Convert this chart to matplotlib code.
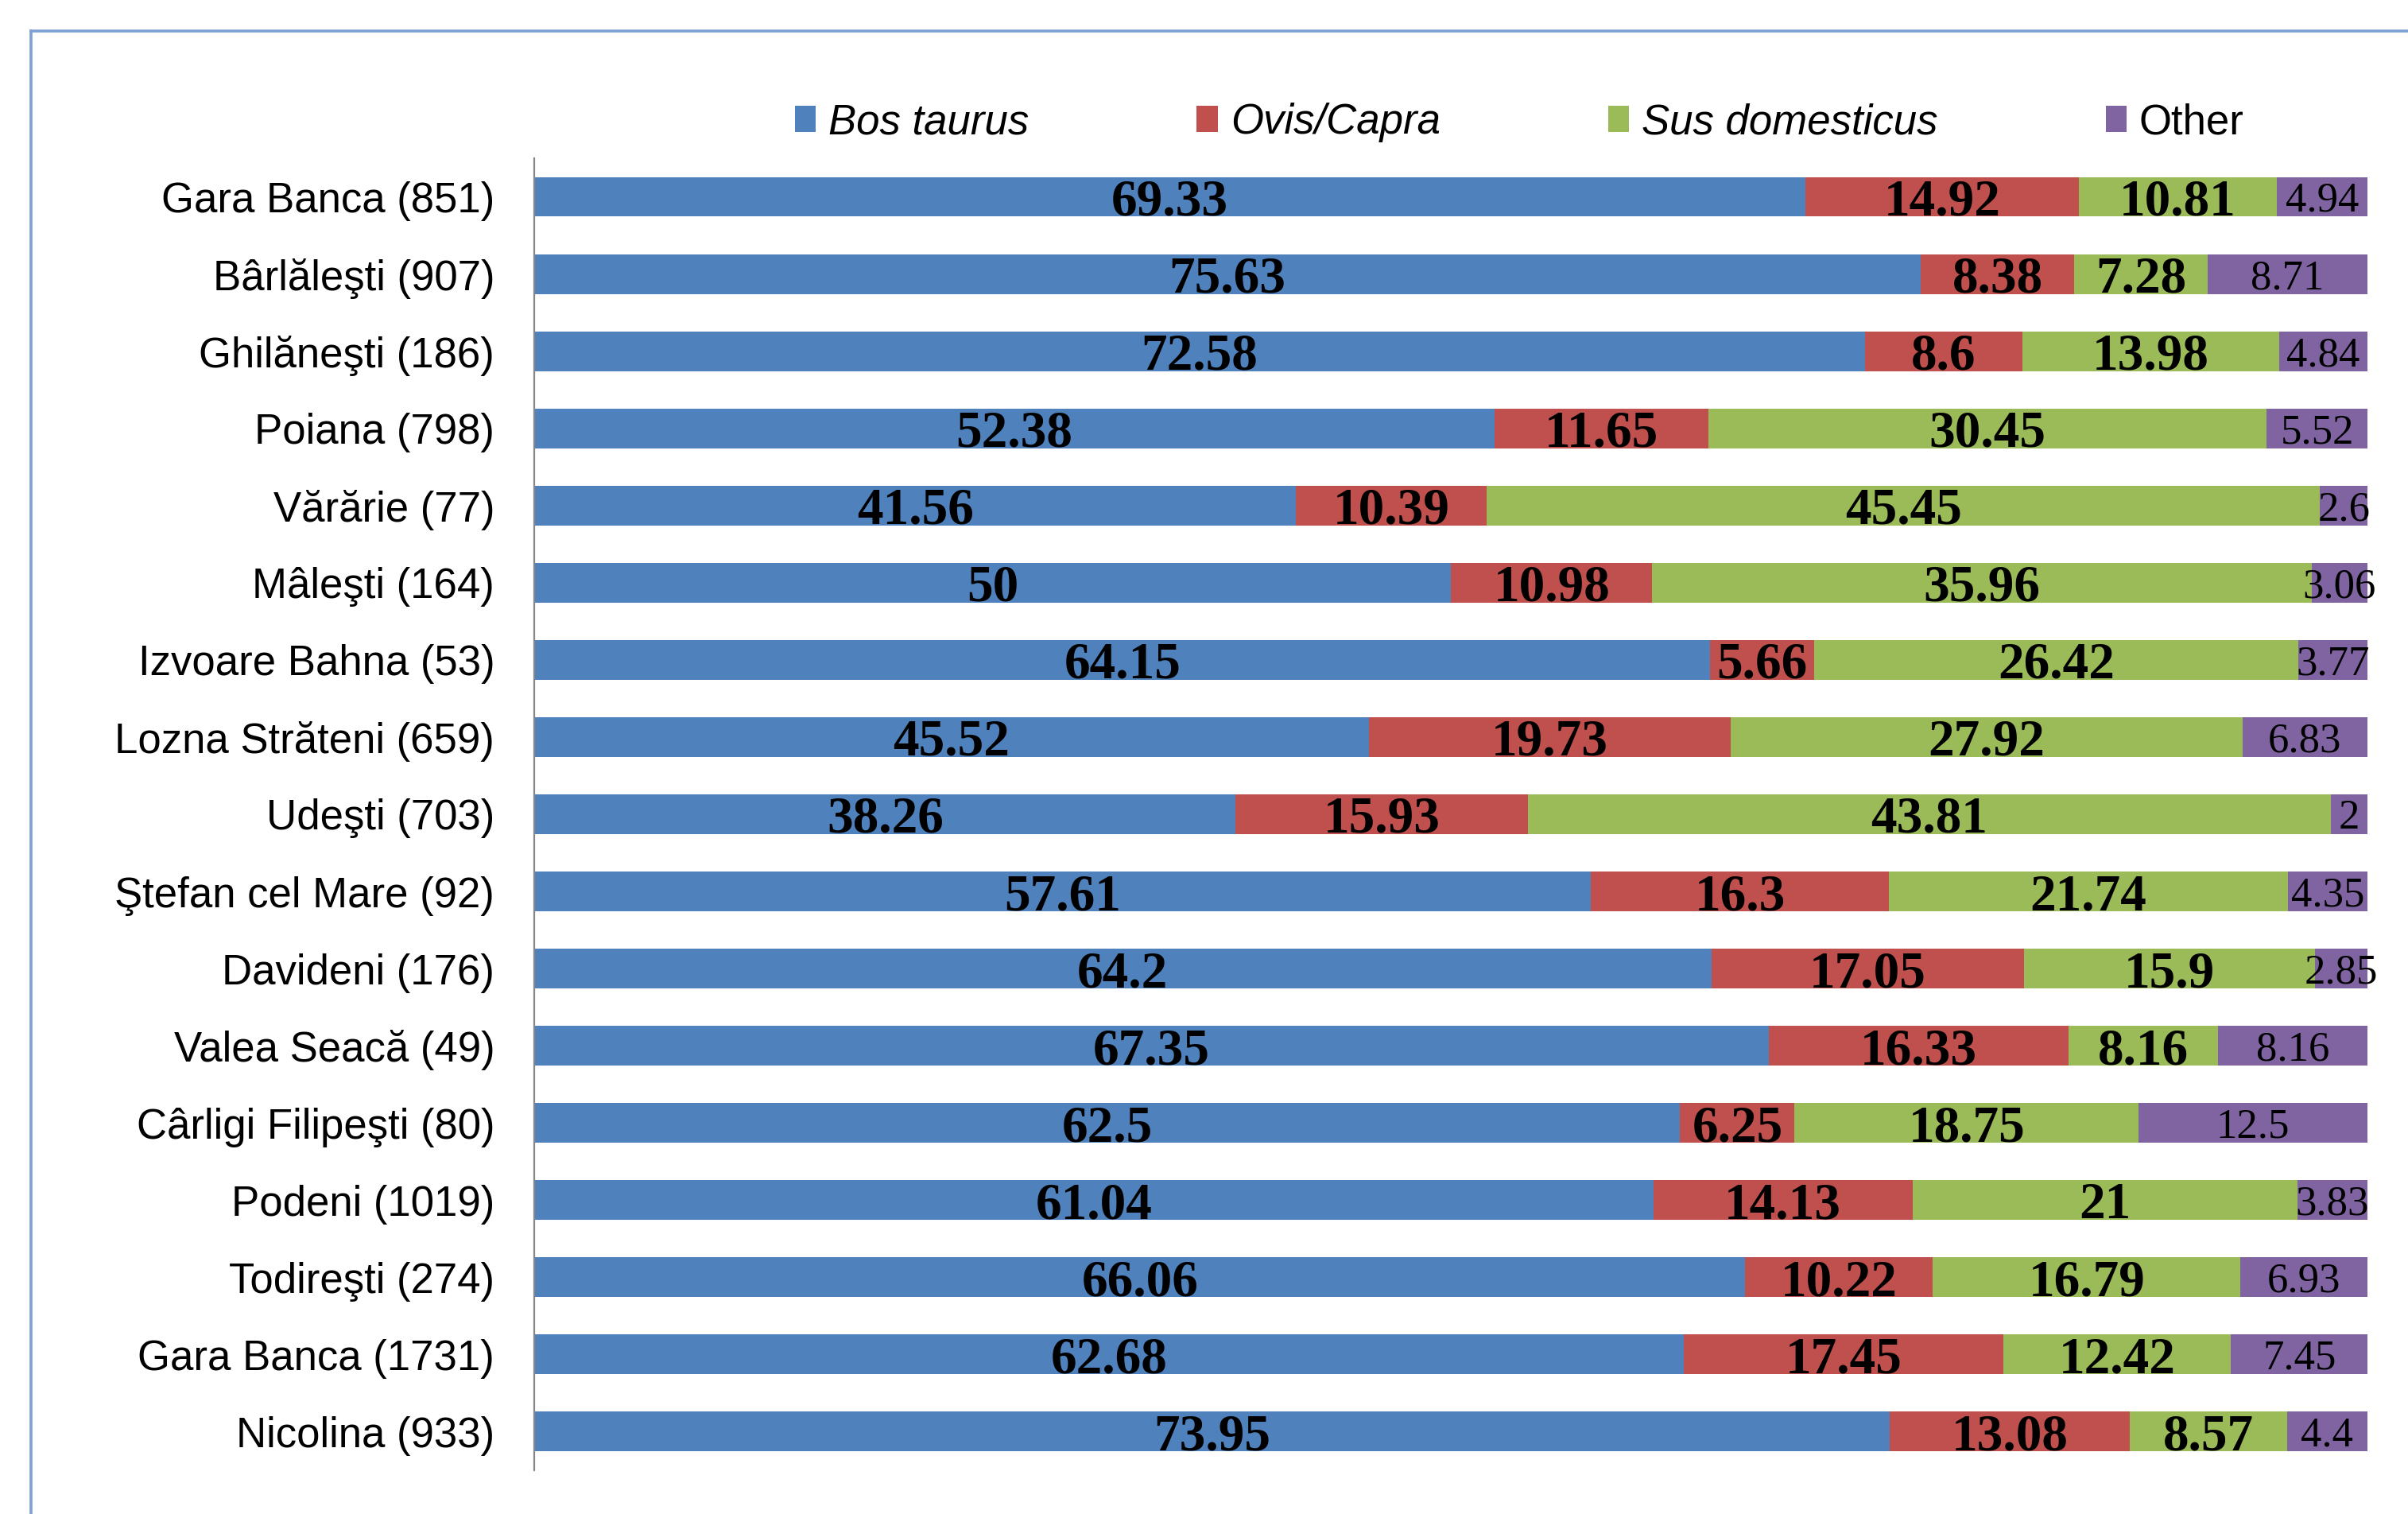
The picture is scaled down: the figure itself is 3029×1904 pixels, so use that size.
import numpy as np
import matplotlib
matplotlib.use('Agg')
import matplotlib.pyplot as plt
from matplotlib.lines import Line2D

# ===================== 数据 =====================
sites = ['Gara Banca (851)', 'Bârlăleşti (907)', 'Ghilăneşti (186)', 'Poiana (798)',
         'Vărărie (77)', 'Mâleşti (164)', 'Izvoare Bahna (53)', 'Lozna Străteni (659)',
         'Udeşti (703)', 'Ştefan cel Mare (92)', 'Davideni (176)', 'Valea Seacă (49)',
         'Cârligi Filipeşti (80)', 'Podeni (1019)', 'Todireşti (274)',
         'Gara Banca (1731)', 'Nicolina (933)']

bos_taurus = [69.33, 75.63, 72.58, 52.38, 41.56, 50, 64.15, 45.52, 38.26, 57.61,
              64.2, 67.35, 62.5, 61.04, 66.06, 62.68, 73.95]
ovis_capra = [14.92, 8.38, 8.6, 11.65, 10.39, 10.98, 5.66, 19.73, 15.93, 16.3,
              17.05, 16.33, 6.25, 14.13, 10.22, 17.45, 13.08]
sus_dom = [10.81, 7.28, 13.98, 30.45, 45.45, 35.96, 26.42, 27.92, 43.81, 21.74,
           15.9, 8.16, 18.75, 21, 16.79, 12.42, 8.57]
other = [4.94, 8.71, 4.84, 5.52, 2.6, 3.06, 3.77, 6.83, 2, 4.35,
         2.85, 8.16, 12.5, 3.83, 6.93, 7.45, 4.4]

series_names = ['Bos taurus', 'Ovis/Capra', 'Sus domesticus', 'Other']
colors = ['#4F81BD', '#C0504D', '#9BBB59', '#8064A2']

# ===================== 绘图 =====================
fig = plt.figure(figsize=(15.145, 9.52), dpi=200)
ax = fig.add_axes([0.2219, 0.0289, 0.7613, 0.8666])

y = np.arange(len(sites))
left = np.zeros(len(sites))
all_series = [bos_taurus, ovis_capra, sus_dom, other]

for i, (vals, name, col) in enumerate(zip(all_series, series_names, colors)):
    vals = np.array(vals, dtype=float)
    ax.barh(y, vals, left=left, height=0.515, color=col, label=name,
            edgecolor='none')
    # 数据标签：前三个系列加粗，Other 常规
    for yi, l, v in zip(y, left, vals):
        txt = f'{v:g}'
        if i < 3:
            ax.text(l + v / 2, yi, txt, ha='center', va='center_baseline',
                    fontsize=23.5, fontweight='bold', family='Liberation Serif',
                    color='black')
        else:
            ax.text(l + v / 2, yi, txt, ha='center', va='center_baseline',
                    fontsize=19, family='Liberation Serif', color='black')
    left = left + vals

ax.set_xlim(0, 100)
ax.set_ylim(len(sites) - 0.5, -0.5)
ax.set_yticks(y)
ax.set_yticklabels(sites, family='Liberation Sans', fontsize=19)
ax.tick_params(axis='y', length=0, pad=18)
ax.set_xticks([])
for s in ['top', 'right', 'bottom']:
    ax.spines[s].set_visible(False)
ax.spines['left'].set_color('#868686')
ax.spines['left'].set_linewidth(0.8)

# 图例
leg = fig.legend(loc='center', bbox_to_anchor=(0.631, 0.919), ncol=4,
                 frameon=False, prop={'family': 'Liberation Sans', 'size': 19},
                 handlelength=0.5, handleheight=0.6, handletextpad=0.3,
                 columnspacing=4.0)
for t in leg.get_texts()[:3]:
    t.set_fontstyle('italic')

# 外框线
fx = 39 / 3029
fy = 1 - 39 / 1904
fig.add_artist(Line2D([fx, 1.0], [fy, fy], color='#7EA1D3', linewidth=1.3))
fig.add_artist(Line2D([fx, fx], [0.0, fy], color='#7EA1D3', linewidth=1.3))

fig.savefig('out.png', dpi=200)
